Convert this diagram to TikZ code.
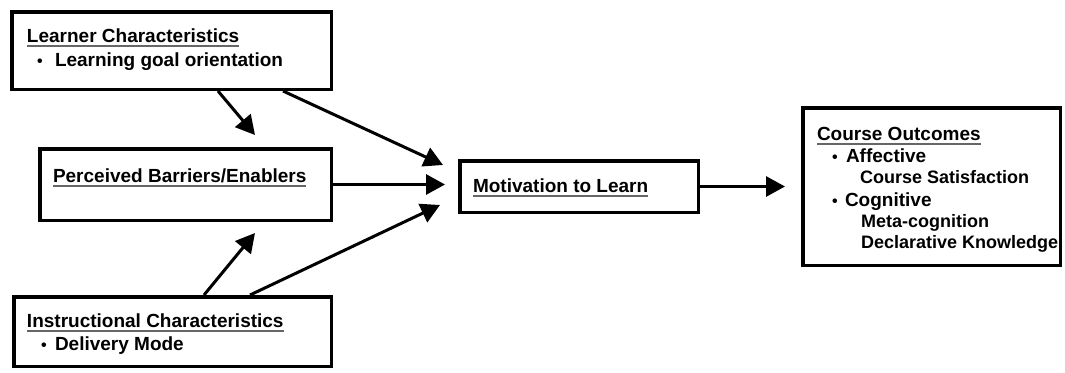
\documentclass[tikz,border=0pt]{standalone}
\usepackage{fontspec}
\setmainfont{Liberation Sans}
\usetikzlibrary{arrows.meta}
\newcommand\hdr[1]{\setbox0\hbox{#1}\rlap{\color{black!60}\rule[-4.5pt]{\wd0}{1.8pt}}\box0}
\tikzset{
  box/.style={draw, line width=3.5pt, inner sep=0pt},
  txt/.style={anchor=base west, inner sep=0pt, outer sep=0pt, font=\bfseries\fontsize{19}{22}\selectfont},
  subtxt/.style={txt, font=\bfseries\fontsize{18}{20}\selectfont},
  bul/.style={anchor=base, inner sep=0pt, outer sep=0pt, font=\bfseries\fontsize{16}{16}\selectfont},
  arr/.style={-{Triangle[length=19pt,width=20pt]}, line width=3pt}
}
\begin{document}
\begin{tikzpicture}[x=1pt,y=-1pt]
\useasboundingbox (0,0) rectangle (1065,372);
\fill[white] (0,0) rectangle (1065,372);
% boxes
\node[box, minimum width=319.5pt, minimum height=77.5pt] (lc) at (171.5,50.5) {};
\node[box, minimum width=291.5pt, minimum height=71.5pt] (pb) at (185.5,184.5) {};
\node[box, minimum width=317.5pt, minimum height=69.5pt] (ic) at (172.5,331.5) {};
\node[box, minimum width=238.5pt, minimum height=51.5pt] (mt) at (579,186.5) {};
\node[box, minimum width=257.5pt, minimum height=157.5pt] (co) at (931.5,186.5) {};
% texts
\node[txt] (lct) at (27,42) {\hdr{Learner Characteristics}};
\node[bul] (lcb) at (40,66) {•};
\node[txt] (lci) at (55,66) {Learning goal orientation};
\node[txt] (pbt) at (53,182) {\hdr{Perceived Barriers/Enablers}};
\node[txt] (ict) at (27,327) {\hdr{Instructional Characteristics}};
\node[bul] (icb) at (44,350) {•};
\node[txt] (ici) at (55,350) {Delivery Mode};
\node[txt] (mtt) at (473,192) {\hdr{Motivation to Learn}};
\node[txt] (cot) at (817,140) {\hdr{Course Outcomes}};
\node[bul] (cob1) at (835,162) {•};
\node[txt] (coa) at (846,162) {Affective};
\node[subtxt] (coa1) at (860,183) {Course Satisfaction};
\node[bul] (cob2) at (835,206) {•};
\node[txt] (cog) at (845,206) {Cognitive};
\node[subtxt] (cog1) at (861,227) {Meta-cognition};
\node[subtxt] (cog2) at (861,248) {Declarative Knowledge};
% arrows
\draw[arr] ([xshift=46.5pt]lc.south) -- ([xshift=69.5pt,yshift=12pt]pb.north);
\draw[arr] ([xshift=111.5pt]lc.south) -- ([xshift=-15pt,yshift=21.5pt]mt.west);
\draw[arr, shorten >=13pt] (pb.east) -- (pb.east -| mt.west);
\draw[arr] ([xshift=31.5pt]ic.north) -- ([xshift=69.5pt,yshift=-11pt]pb.south);
\draw[arr] ([xshift=77.5pt]ic.north) -- ([xshift=-18pt,yshift=-18.5pt]mt.west);
\draw[arr, shorten >=16pt] (mt.east) -- (co.west |- mt.east);
\end{tikzpicture}
\end{document}
